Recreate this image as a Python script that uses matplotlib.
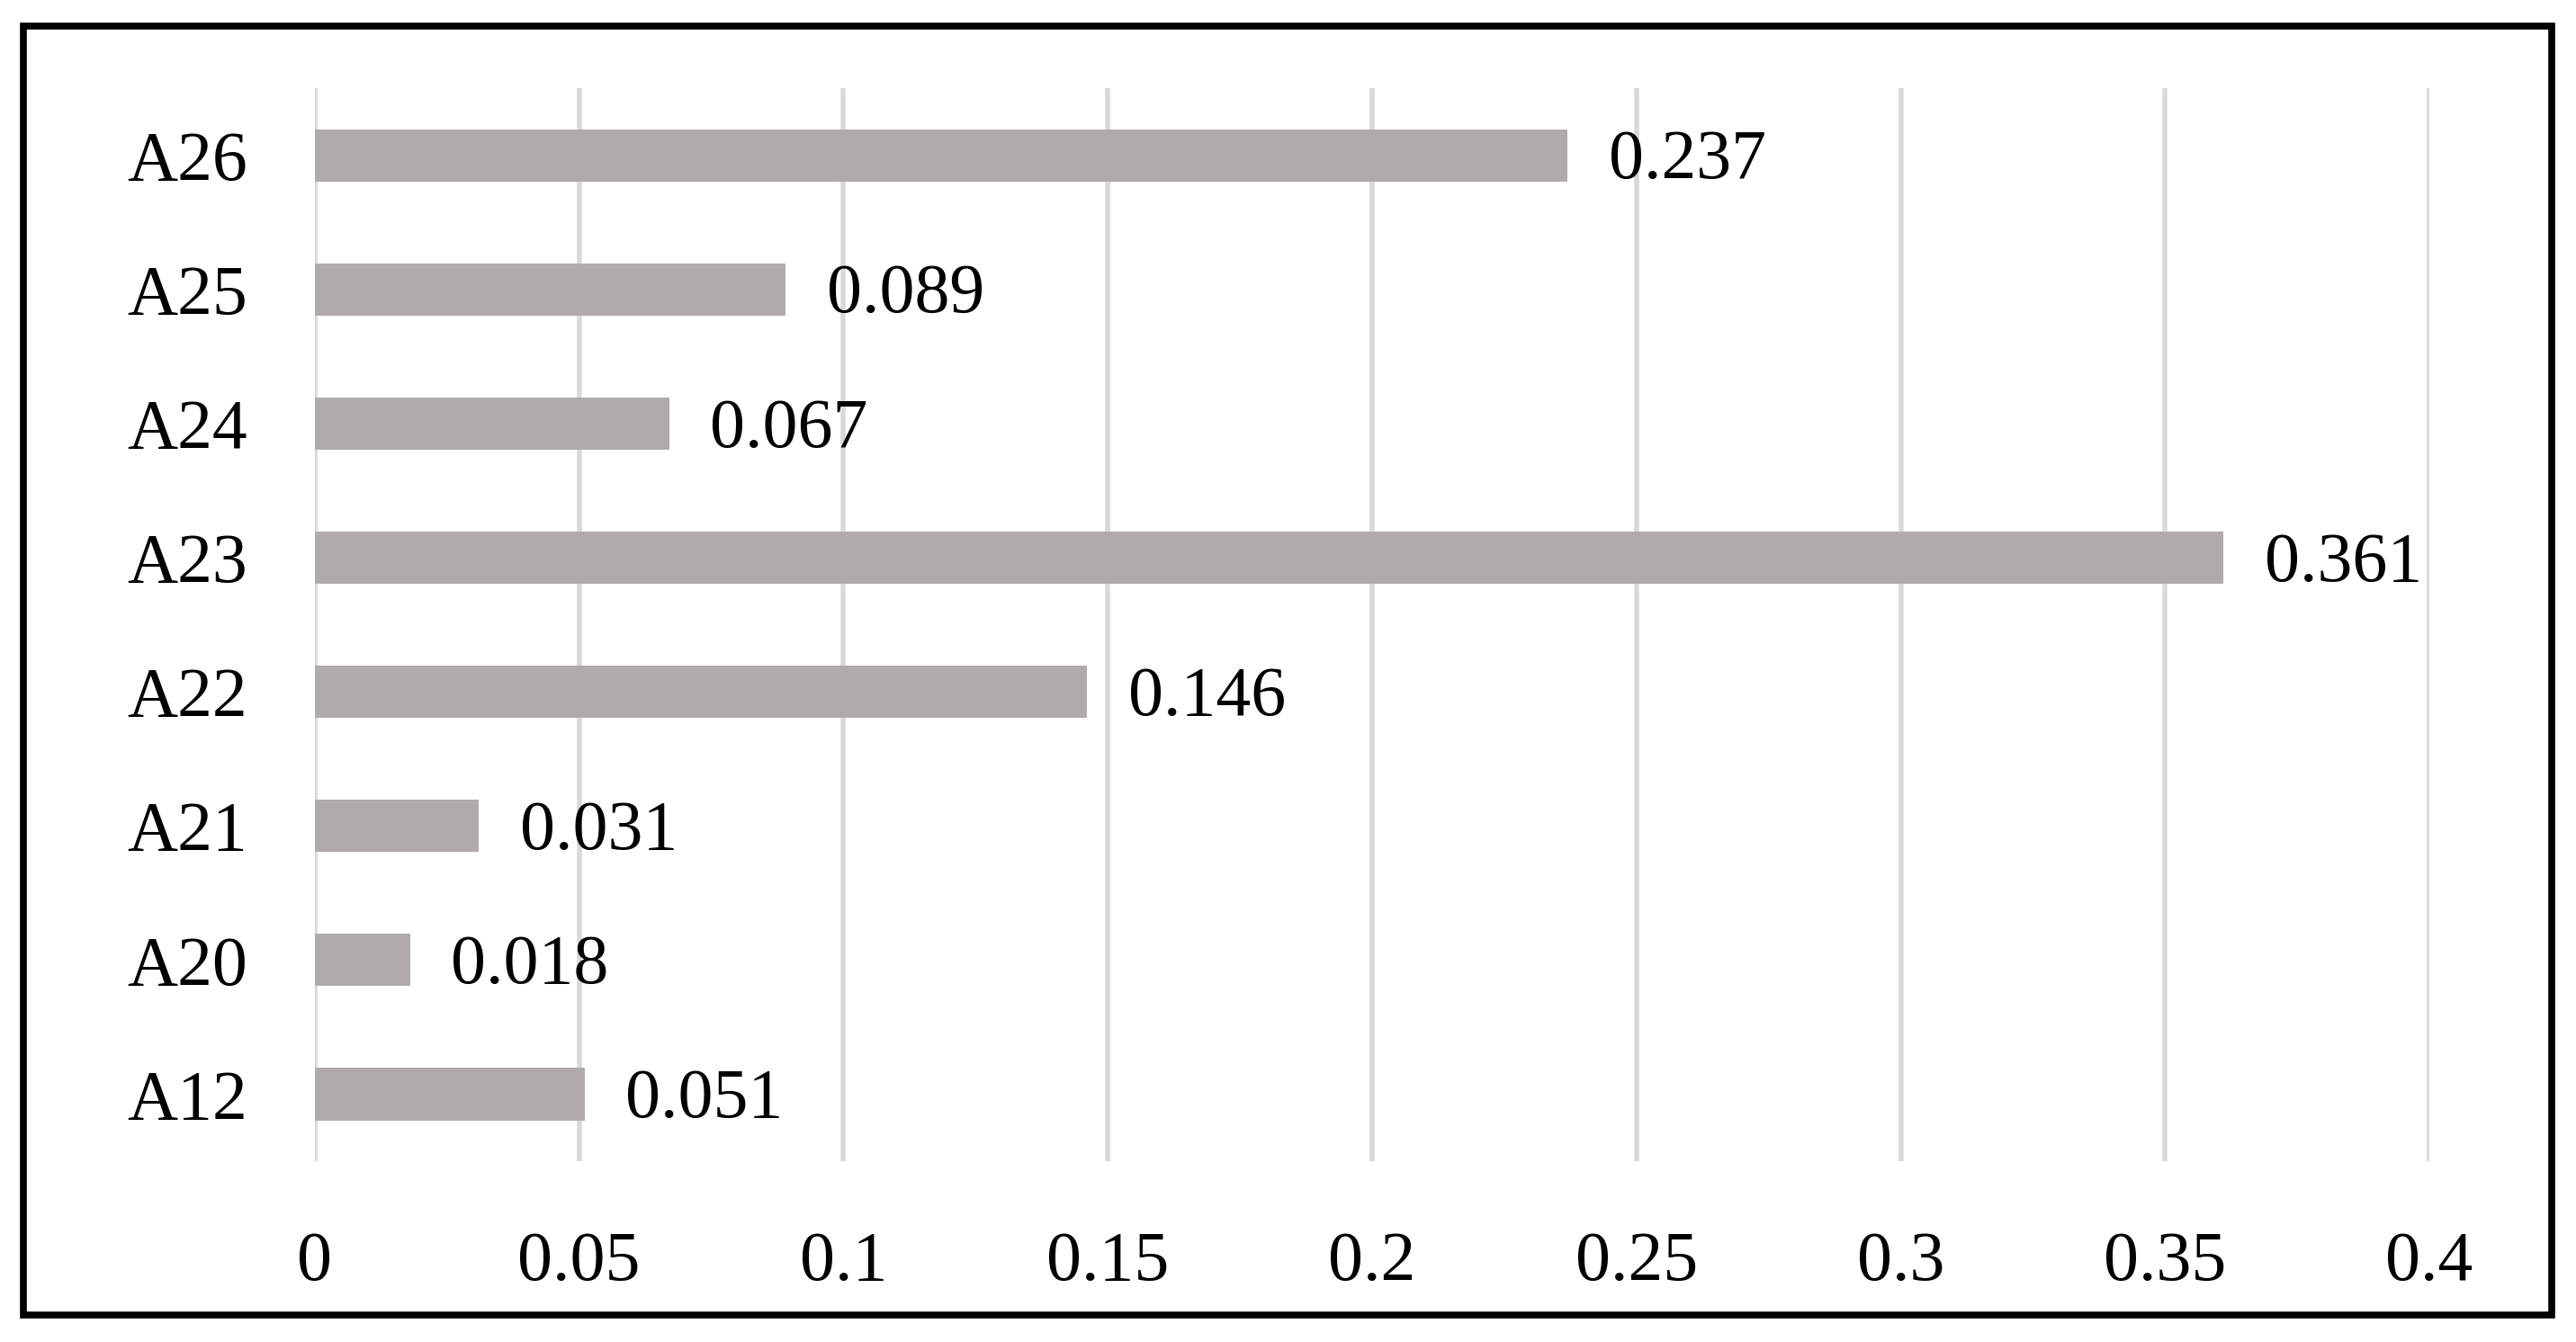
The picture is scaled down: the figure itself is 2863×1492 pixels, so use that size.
import matplotlib.pyplot as plt
from matplotlib.patches import Rectangle

# data (bottom to top, as drawn)
categories = ['A12', 'A20', 'A21', 'A22', 'A23', 'A24', 'A25', 'A26']
values = [0.051, 0.018, 0.031, 0.146, 0.361, 0.067, 0.089, 0.237]
x_ticks = [0, 0.05, 0.1, 0.15, 0.2, 0.25, 0.3, 0.35, 0.4]
x_tick_labels = ['0', '0.05', '0.1', '0.15', '0.2', '0.25', '0.3', '0.35', '0.4']

plt.rcParams['font.family'] = ['Liberation Serif', 'DejaVu Serif']

fig = plt.figure(figsize=(28.63, 14.92), dpi=100)
ax = fig.add_axes([0.1222, 0.1347, 0.8209, 0.7996])

ypos = list(range(len(categories)))
ax.barh(ypos, values, height=0.39, color='#AFABAB', zorder=3)

# value labels to the right of each bar
for y, v in zip(ypos, values):
    ax.annotate(f'{v:.3f}', xy=(v, y), xytext=(33, -5), textcoords='offset points',
                ha='left', va='center', fontsize=56, color='black')

ax.set_xlim(0, 0.4)
ax.set_ylim(-0.5, len(categories) - 0.5)
ax.set_xticks(x_ticks)
ax.set_xticklabels(x_tick_labels)
ax.set_yticks(ypos)
ax.set_yticklabels(categories)
ax.tick_params(axis='x', length=0, pad=56, labelsize=56)
ax.tick_params(axis='y', length=0, pad=54, labelsize=56)

ax.grid(axis='x', color='#D9D9D9', linewidth=4, zorder=0)
ax.set_axisbelow(True)
for s in ax.spines.values():
    s.set_visible(False)

# outer black frame
fig.patches.append(Rectangle((26 / 2863, 1 - 1462 / 1492), (2836 - 26) / 2863, (1462 - 29) / 1492,
                             transform=fig.transFigure, fill=False, edgecolor='black', linewidth=5.5))

fig.savefig('out.png', dpi=100)
